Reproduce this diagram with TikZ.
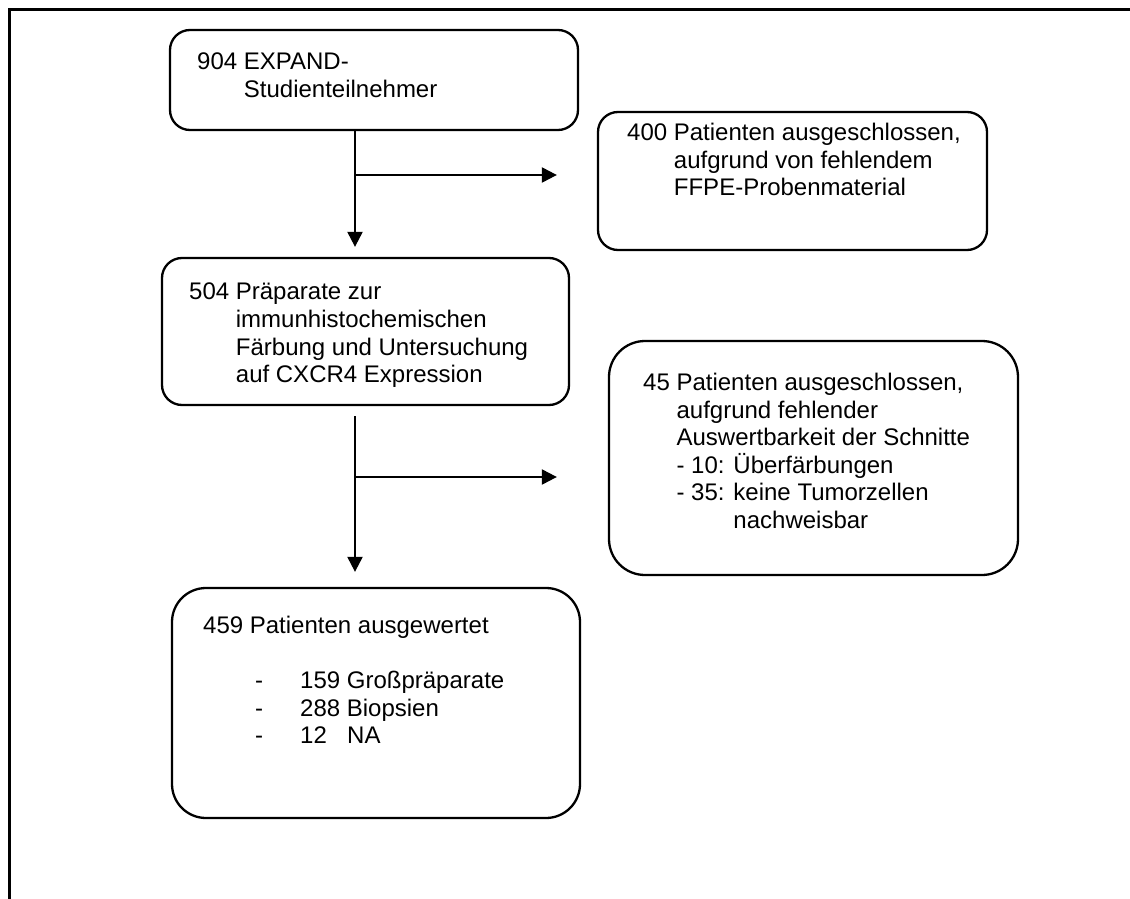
\documentclass[tikz,border=0pt]{standalone}
\usepackage{fontspec}
\setmainfont{Liberation Sans}
\usetikzlibrary{arrows.meta}
\tikzset{
  box/.style={draw, line width=2.3pt, rounded corners=#1, inner sep=0pt},
  box/.default=20pt,
  txt/.style={anchor=north west, align=left, inner sep=0pt, font=\fontsize{24}{27.6}\selectfont},
  arr/.style={line width=2.2pt, -{Triangle[length=15pt,width=15pt]}},
}
\begin{document}
\begin{tikzpicture}[x=1pt,y=-1pt]
\useasboundingbox (0,0) rectangle (1130,899);
% frame
\draw[line width=3pt] (9,899) -- (9,10) -- (1130,10);
% boxes
\node[box=20pt, minimum width=408pt, minimum height=100pt] (b1) at (374,80) {};
\node[box=20pt, minimum width=389pt, minimum height=138pt] (b2) at (792.5,181) {};
\node[box=20pt, minimum width=407pt, minimum height=147pt] (b3) at (365.5,331.5) {};
\node[box=36pt, minimum width=409pt, minimum height=234pt] (b4) at (813.5,458) {};
\node[box=34pt, minimum width=408pt, minimum height=230pt] (b5) at (376,703) {};
% texts
\node[txt] (t1) at (197,53) {904 EXPAND-\\\hphantom{904 }Studienteilnehmer};
\node[txt] (t2) at (627,123) {400 Patienten ausgeschlossen,\\\hphantom{400 }aufgrund von fehlendem\\\hphantom{400 }FFPE-Probenmaterial};
\node[txt] (t3) at (189,283) {504 Präparate zur\\\hphantom{504 }immunhistochemischen\\\hphantom{504 }Färbung und Untersuchung\\\hphantom{504 }auf CXCR4 Expression};
\node[txt] (t4) at (643,373) {45 Patienten ausgeschlossen,\\\hphantom{45 }aufgrund fehlender\\\hphantom{45 }Auswertbarkeit der Schnitte\\\hphantom{45 }- 10: Überfärbungen\\\hphantom{45 }- 35: keine Tumorzellen\\\hphantom{45 - 35: }nachweisbar};
\node[txt] (t5) at (203,616) {459 Patienten ausgewertet\\[27.6pt]\hspace*{52pt}\makebox[45pt][l]{-}159 Großpräparate\\\hspace*{52pt}\makebox[45pt][l]{-}288 Biopsien\\\hspace*{52pt}\makebox[45pt][l]{-}\makebox[47pt][l]{12}NA};
% connectors
\coordinate (x1) at (355,0);
\coordinate (j1) at (355,175);
\coordinate (j2) at (355,477);
\draw[arr, shorten >=10pt] (b1.south -| x1) -- (b3.north -| x1);
\draw[arr, shorten >=40pt] (j1) -- (j1 -| b2.west);
\draw[arr, shorten <=10pt, shorten >=15pt] (b3.south -| x1) -- (b5.north -| x1);
\draw[arr, shorten >=51pt] (j2) -- (j2 -| b4.west);
\end{tikzpicture}
\end{document}
